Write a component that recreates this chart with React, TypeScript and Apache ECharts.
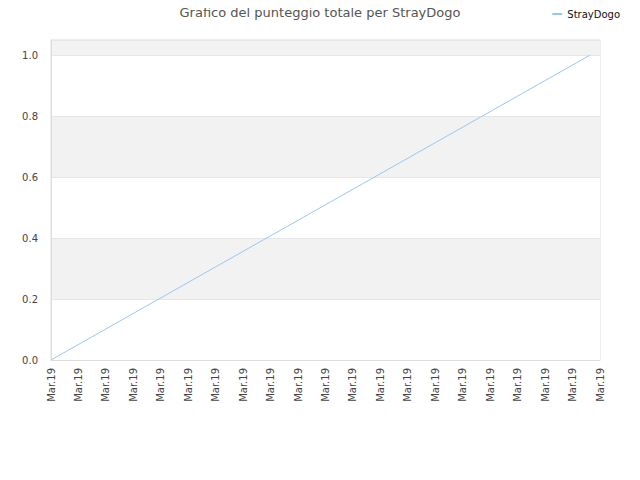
import React, { useEffect, useRef } from 'react'
import * as echarts from 'echarts'

const title = 'Grafico del punteggio totale per StrayDogo'
const seriesName = 'StrayDogo'
// x positions (index of the tick slot) and score values
const xValues = [0, 19.63]
const yValues = [0, 1]
const xTickLabel = 'Mar.19'
const xTickCount = 20
const yMax = 1.05

export default function App() {
  const ref = useRef<HTMLDivElement | null>(null)

  useEffect(() => {
    if (!ref.current) return
    const chart = echarts.init(ref.current, undefined, { renderer: 'svg' })

    const opt: echarts.EChartsOption = {
      animation: false,
      textStyle: { fontFamily: 'DejaVu Sans' },
      title: {
        text: title,
        left: 'center',
        top: 1,
        textStyle: { fontSize: 13, fontWeight: 'normal', color: '#555', fontFamily: 'DejaVu Sans' }
      },
      legend: {
        right: 15,
        top: 4,
        itemWidth: 10,
        itemHeight: 2,
        itemGap: 6,
        icon: 'rect',
        textStyle: { fontSize: 10, color: '#111', fontFamily: 'DejaVu Sans' },
        data: [seriesName]
      },
      grid: { left: 51, right: 40, top: 40, bottom: 120, show: true, borderColor: '#dddddd', borderWidth: 1 },
      xAxis: {
        type: 'value',
        min: 0,
        max: xTickCount,
        interval: 1,
        axisLine: { show: true, lineStyle: { color: '#dddddd' } },
        axisTick: { show: false },
        splitLine: { show: false },
        axisLabel: {
          rotate: 90,
          fontSize: 10,
          color: '#444',
          margin: 8,
          formatter: () => xTickLabel
        }
      },
      yAxis: {
        type: 'value',
        min: 0,
        max: yMax,
        interval: 0.2,
        axisLine: { show: true, lineStyle: { color: '#dddddd' } },
        axisTick: { show: false },
        axisLabel: {
          fontSize: 10,
          color: '#444',
          margin: 13,
          showMaxLabel: false,
          formatter: (v: number) => v.toFixed(1)
        },
        splitLine: { show: true, lineStyle: { color: '#e6e6e6' } },
        splitArea: { show: true, areaStyle: { color: ['#ffffff', '#f2f2f2'] } }
      },
      series: [{
        name: seriesName,
        type: 'line',
        showSymbol: false,
        symbol: 'none',
        lineStyle: { color: '#99c7f4', width: 1 },
        itemStyle: { color: '#99c7f4' },
        data: xValues.map((x, i) => [x, yValues[i]])
      }]
    }

    chart.setOption(opt)
    return () => { chart.dispose() }
  }, [])

  return <div ref={ref} style={{ width: 640, height: 480, margin: -8 }} />
}
